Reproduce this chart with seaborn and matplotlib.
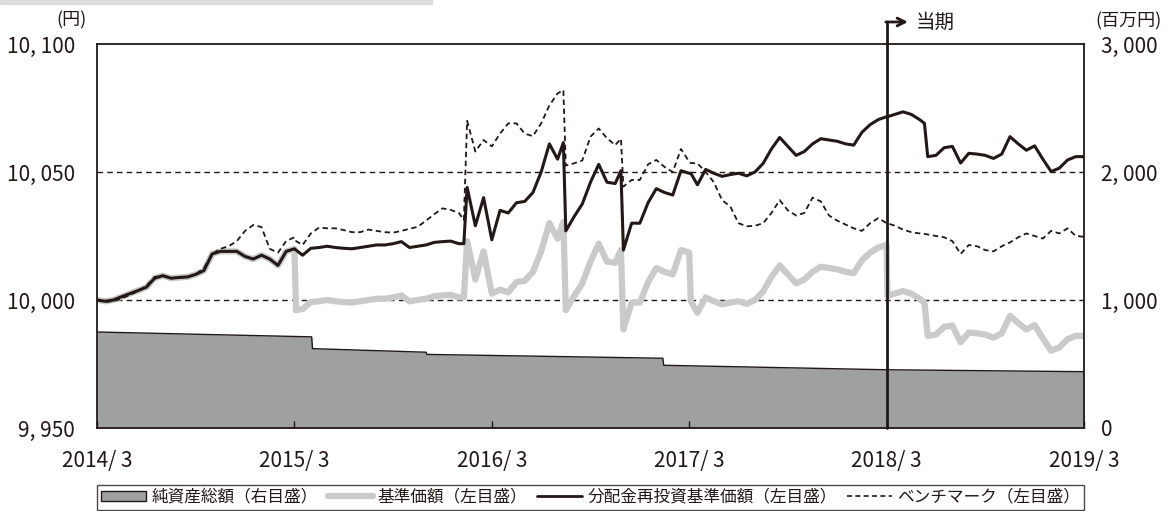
import matplotlib
matplotlib.use("Agg")
import matplotlib.pyplot as plt
from matplotlib.patches import Patch, Rectangle
from matplotlib.lines import Line2D
import pandas as pd
import seaborn as sns

sns.set_style("white")
plt.rcParams['font.family'] = ['Noto Sans CJK JP', 'DejaVu Sans']

## Data (months counted from 2014/3)
months = [0, 0.5, 1, 1.5, 2, 2.5, 3, 3.5, 4, 4.5,
          5, 5.5, 6, 6.5, 7, 7.5, 8, 8.5, 9, 9.5,
          10, 10.5, 11, 11.5, 12, 12.1, 12.5, 13, 13.5, 14,
          14.5, 15, 15.5, 16, 16.5, 17, 17.5, 18, 18.5, 19,
          19.5, 20, 20.5, 21, 21.5, 22, 22.3, 22.5, 23, 23.5,
          24, 24.5, 25, 25.5, 26, 26.5, 27, 27.5, 28, 28.35,
          28.5, 29, 29.5, 30, 30.5, 31, 31.5, 31.85, 32, 32.5,
          33, 33.5, 34, 34.5, 35, 35.5, 36, 36.1, 36.5, 37,
          37.5, 38, 38.5, 39, 39.5, 40, 40.5, 41, 41.5, 42,
          42.5, 43, 43.5, 44, 44.5, 45, 45.5, 46, 46.5, 47,
          47.5, 48, 48.05, 48.5, 49, 49.5, 50, 50.3, 50.5, 51,
          51.5, 52, 52.5, 53, 53.5, 54, 54.5, 55, 55.5, 56,
          56.5, 57, 57.5, 58, 58.5, 59, 59.5, 60]

# 分配金再投資基準価額
nav_reinvest = [10000, 9999.5, 10000, 10001.3, 10002.5, 10003.7, 10005, 10008.5, 10009.5, 10008.5,
                10008.8, 10009, 10010, 10011.5, 10018, 10019, 10019, 10019, 10017, 10016,
                10017.5, 10016, 10013.5, 10019, 10020, 10019.5, 10017.5, 10020.2, 10020.5, 10021,
                10020.5, 10020.2, 10020, 10020.5, 10021, 10021.5, 10021.5, 10022, 10022.8, 10020.5,
                10021, 10021.5, 10022.5, 10022.8, 10023, 10022, 10022, 10044, 10029, 10040,
                10023.5, 10035, 10034, 10038, 10038.5, 10042, 10050, 10061, 10055, 10061.5,
                10027, 10032.5, 10037.5, 10046, 10053, 10046, 10045.5, 10050.5, 10019.5, 10030,
                10030, 10038, 10043.5, 10042, 10041, 10050.5, 10049.5, 10049.5, 10045, 10051,
                10049.5, 10048.3, 10049, 10049.5, 10048.5, 10050, 10053.4, 10059, 10063.5, 10060,
                10056.5, 10058, 10061, 10063, 10062.5, 10062, 10061, 10060.5, 10065.5, 10068.5,
                10070.5, 10071.6, 10071.6, 10072.5, 10073.5, 10072.5, 10070.5, 10069, 10056, 10056.5,
                10059.5, 10060, 10053.5, 10057.3, 10057, 10056.5, 10055.3, 10057, 10063.8, 10061,
                10058.5, 10060.2, 10055, 10050.2, 10051.5, 10054.7, 10056, 10056]

# 基準価額
nav = [10000, 9999.5, 10000, 10001.3, 10002.5, 10003.7, 10005, 10008.5, 10009.5, 10008.5,
       10008.8, 10009, 10010, 10011.5, 10018, 10019, 10019, 10019, 10017, 10016,
       10017.5, 10016, 10013.5, 10019, 10020, 9996, 9996.5, 9999.2, 9999.5, 10000,
       9999.5, 9999.2, 9999, 9999.5, 10000, 10000.5, 10000.5, 10001, 10001.8, 9999.5,
       10000, 10000.5, 10001.5, 10001.8, 10002, 10001, 10001, 10023, 10008, 10019,
       10002.5, 10004, 10003, 10007, 10007.5, 10011, 10019, 10030, 10024, 10030.5,
       9996, 10001.5, 10006.5, 10015, 10022, 10015, 10014.5, 10019.5, 9988.5, 9999,
       9999, 10007, 10012.5, 10011, 10010, 10019.5, 10018.5, 9999.5, 9995, 10001,
       9999.5, 9998.3, 9999, 9999.5, 9998.5, 10000, 10003.4, 10009, 10013.5, 10010,
       10006.5, 10008, 10011, 10013, 10012.5, 10012, 10011, 10010.5, 10015.5, 10018.5,
       10020.5, 10021.6, 10001.6, 10002.5, 10003.5, 10002.5, 10000.5, 9999, 9986, 9986.5,
       9989.5, 9990, 9983.5, 9987.3, 9987, 9986.5, 9985.3, 9987, 9993.8, 9991,
       9988.5, 9990.2, 9985, 9980.2, 9981.5, 9984.7, 9986, 9986]

# ベンチマーク
benchmark = [10000, 9999.3, 9999.5, 10000.6, 10002, 10003.5, 10005.5, 10009, 10009.5, 10008.5,
             10008.8, 10009, 10010, 10012.5, 10018, 10020, 10021, 10023, 10027, 10029.3,
             10028.5, 10020, 10018.5, 10023, 10024.5, 10023, 10021.5, 10026, 10028.3, 10028,
             10028, 10027.3, 10026.5, 10026.5, 10027.5, 10027, 10026.5, 10026.3, 10027, 10027.8,
             10028.6, 10031, 10033.5, 10035.8, 10035.2, 10034, 10031.2, 10070, 10058, 10062.5,
             10060, 10065, 10069, 10069, 10065, 10064, 10069, 10076, 10080.7, 10082,
             10052.5, 10053.4, 10054.5, 10063.8, 10067, 10063.2, 10060.5, 10063, 10044.3, 10046.9,
             10046.9, 10053, 10054.7, 10052, 10050, 10059, 10054, 10053.5, 10053.4, 10050,
             10046, 10039, 10036.5, 10030, 10028.8, 10029, 10030, 10034, 10039, 10035,
             10033, 10034, 10040, 10038.5, 10033, 10031, 10029.5, 10028, 10027, 10030,
             10032, 10030, 10030, 10029, 10027.5, 10026.5, 10026, 10025.8, 10025.6, 10025,
             10024.5, 10023, 10018, 10021.5, 10021, 10019.5, 10019, 10021, 10022.5, 10024.5,
             10026, 10025, 10024, 10027, 10026, 10028, 10025, 10024.7]

# 純資産総額 (百万円)
asset_months = [0, 13.05, 13.1, 20.0, 20.05, 34.4, 34.45, 48, 60]
net_assets = [750, 712, 620, 592, 575, 545, 490, 455, 440]

tick_months = [0, 12, 24, 36, 48, 60]
tick_labels = ["2014/ 3", "2015/ 3", "2016/ 3", "2017/ 3", "2018/ 3", "2019/ 3"]
left_ticks = [9950, 10000, 10050, 10100]
left_labels = ["9, 950", "10, 000", "10, 050", "10, 100"]
right_ticks = [0, 1000, 2000, 3000]
right_labels = ["0", "1, 000", "2, 000", "3, 000"]
current_month = 48

df = pd.DataFrame({"month": months, "nav": nav, "reinvest": nav_reinvest, "bench": benchmark})

INK = "#231815"
LIGHT = "#c9caca"
AREA = "#9fa0a0"
DASH = (0, (3, 2))

fig = plt.figure(figsize=(11.66, 5.11), dpi=100)
ax = fig.add_axes([97 / 1166, 1 - 428 / 511, 987 / 1166, 384 / 511])
ax2 = ax.twinx()
ax.set_zorder(ax2.get_zorder() + 1)
ax.patch.set_visible(False)

# net assets area on right axis
ax2.fill_between(asset_months, net_assets, 0, color=AREA, lw=0)
ax2.plot(asset_months, net_assets, color=INK, lw=1)
ax2.set_ylim(0, 3000)
ax2.set_yticks(right_ticks, right_labels)
ax2.tick_params(axis='y', length=0, pad=12, labelsize=15, colors=INK)
for s in ax2.spines.values():
    s.set_visible(False)

# grid lines
for v in [10000, 10050]:
    ax.axhline(v, color=INK, lw=1, ls=(0, (4, 3)), zorder=1)

sns.lineplot(data=df, x="month", y="nav", ax=ax, color=LIGHT, lw=4.5, zorder=2)
sns.lineplot(data=df, x="month", y="bench", ax=ax, color=INK, lw=1.3, ls=DASH, zorder=3)
sns.lineplot(data=df, x="month", y="reinvest", ax=ax, color=INK, lw=2.2, zorder=4)

ax.set_xlim(0, 60)
ax.set_ylim(9950, 10100)
ax.set_xlabel("")
ax.set_ylabel("")
ax.set_xticks(tick_months, tick_labels)
ax.set_yticks(left_ticks, left_labels)
ax.tick_params(axis='x', bottom=True, direction='in', length=5, width=1, color=INK,
               pad=16, labelsize=15, labelcolor=INK)
ax.tick_params(axis='y', left=False, length=0, pad=16, labelsize=15, labelcolor=INK)
for s in ax.spines.values():
    s.set_visible(True)
    s.set_color(INK)
    s.set_linewidth(1.3)

# 当期 marker
top_y = 10108.6
ax.plot([current_month, current_month], [9950, top_y], color=INK, lw=2, clip_on=False, zorder=6)
ax.annotate("", xy=(49.3, top_y), xytext=(current_month - 0.05, top_y),
            arrowprops=dict(arrowstyle="->", color=INK, lw=2, shrinkA=0, shrinkB=0,
                            mutation_scale=14),
            annotation_clip=False)
ax.text(49.8, top_y, "当期", ha="left", va="center", fontsize=14, color=INK)

# unit labels
fig.text(72 / 1166, 1 - 20 / 511, "(円)", ha="center", va="center", fontsize=13, color=INK)
fig.text(1162 / 1166, 1 - 21 / 511, "(百万円)", ha="right", va="center", fontsize=13, color=INK)

# decorative bar at the top
fig.patches.append(Rectangle((0, 1 - 4 / 511), 432 / 1166, 4 / 511, transform=fig.transFigure,
                             color="#dcdddd", zorder=0))

# legend
handles = [Patch(facecolor=AREA, edgecolor=INK, lw=1),
           Line2D([], [], color=LIGHT, lw=4.5),
           Line2D([], [], color=INK, lw=2),
           Line2D([], [], color=INK, lw=1.2, ls=DASH)]
labels = ["純資産総額（右目盛）", "基準価額（左目盛）", "分配金再投資基準価額（左目盛）", "ベンチマーク（左目盛）"]
leg = fig.legend(handles, labels, loc="lower left", ncol=4, mode="expand",
                 bbox_to_anchor=(97 / 1166, 1 / 511, 987 / 1166, 27 / 511),
                 frameon=True, fancybox=False, edgecolor=INK, fontsize=12,
                 borderpad=0.25, handlelength=2.7, handleheight=0.6, handletextpad=0.3,
                 columnspacing=0.8, borderaxespad=0)
leg.get_frame().set_linewidth(1)
for t in leg.get_texts():
    t.set_color(INK)

fig.savefig("out.png", dpi=100)
